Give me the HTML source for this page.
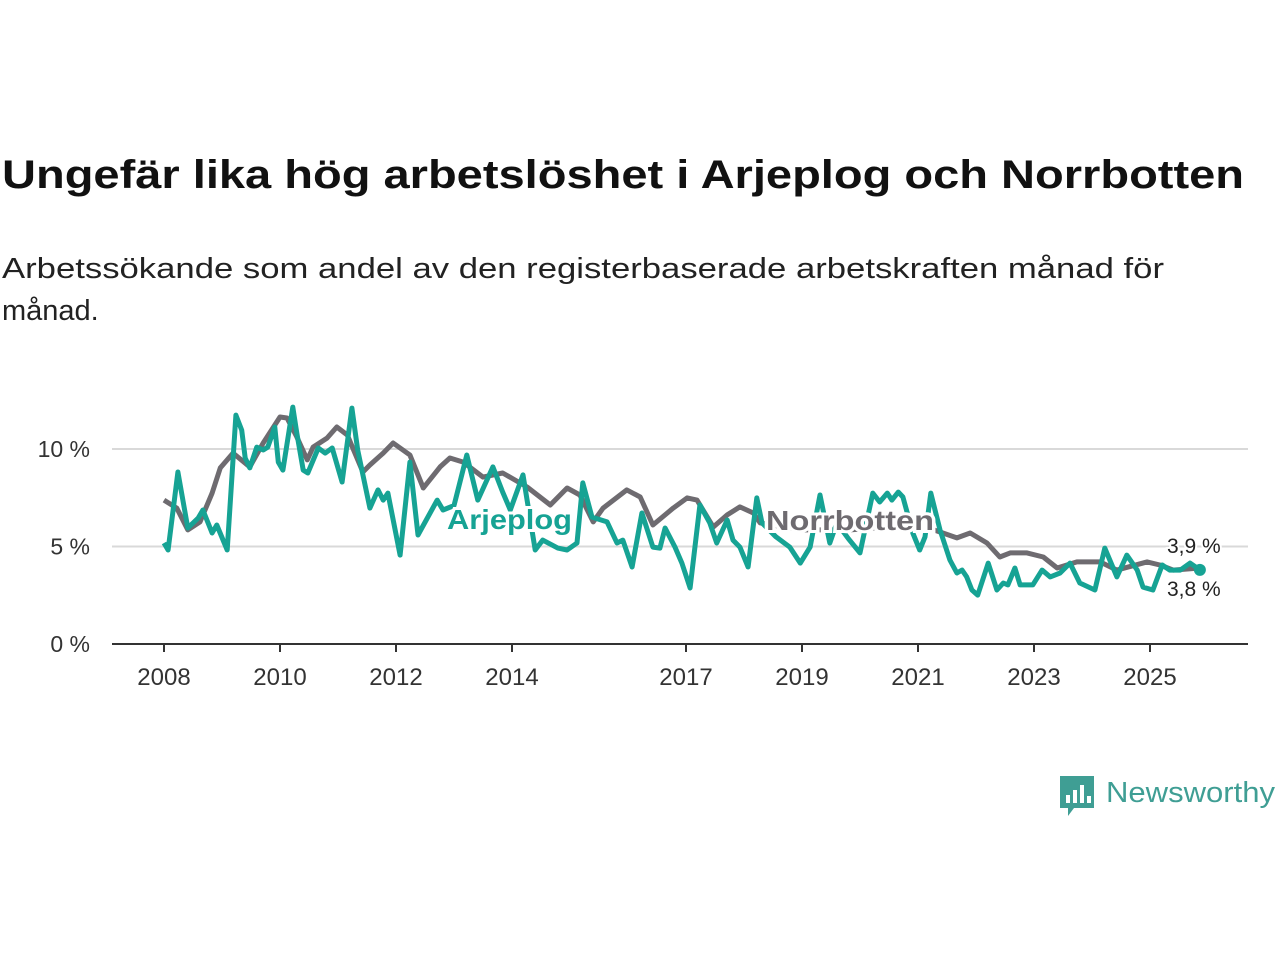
<!DOCTYPE html>
<html><head><meta charset="utf-8"><style>
body{margin:0;background:#fff;width:1280px;height:960px;overflow:hidden;font-family:"Liberation Sans",sans-serif}
</style></head><body>
<svg id="chart" width="1280" height="960" xmlns="http://www.w3.org/2000/svg">
<text x="2" y="188" font-size="40" font-weight="bold" fill="#111" textLength="1242" lengthAdjust="spacingAndGlyphs">Ungefär lika hög arbetslöshet i Arjeplog och Norrbotten</text>
<text x="2" y="278" font-size="29" fill="#222" textLength="1162" lengthAdjust="spacingAndGlyphs">Arbetssökande som andel av den registerbaserade arbetskraften månad för</text>
<text x="2" y="320" font-size="29" fill="#222">månad.</text>
<g id="grid"></g><g id="lines"></g><g id="labels"></g>
<g>
<path d="M1060 776h34v32h-20l-6 8v-8h-8z" fill="#3f9e94"/>
<rect x="1066" y="795" width="4" height="8" fill="#fff"/><rect x="1073" y="790" width="4" height="13" fill="#fff"/><rect x="1080" y="785" width="4" height="18" fill="#fff"/><rect x="1087" y="796" width="4" height="7" fill="#fff"/>
<text x="1106" y="802" font-size="29" fill="#3f9e94" textLength="169" lengthAdjust="spacingAndGlyphs">Newsworthy</text>
</g>
</svg>
<script>
const yTicks=[0,5,10];
const yTickLabels=["0 %","5 %","10 %"];
const xTicks=[2008,2010,2012,2014,2017,2019,2021,2023,2025];
const norrDates=[2008.0,2008.22,2008.41,2008.62,2008.83,2008.97,2009.19,2009.48,2009.71,2010.0,2010.12,2010.29,2010.47,2010.57,2010.81,2010.98,2011.16,2011.43,2011.55,2011.78,2011.95,2012.24,2012.47,2012.76,2012.93,2013.16,2013.5,2013.84,2014.26,2014.66,2014.95,2015.17,2015.4,2015.57,2015.98,2016.21,2016.43,2016.78,2017.02,2017.19,2017.47,2017.71,2017.93,2018.16,2018.28,2018.97,2019.83,2020.69,2021.03,2021.43,2021.67,2021.9,2022.19,2022.41,2022.59,2022.88,2023.16,2023.4,2023.74,2024.14,2024.43,2024.95,2025.17,2025.4,2025.86];
const norrValues=[7.38,6.97,5.85,6.26,7.74,9.03,9.79,9.08,10.31,11.64,11.59,10.62,9.44,10.1,10.56,11.13,10.72,8.82,9.18,9.79,10.31,9.69,8.0,9.08,9.54,9.33,8.56,8.77,8.05,7.13,8.0,7.64,6.26,6.97,7.9,7.54,6.1,6.97,7.49,7.38,6.0,6.62,7.03,6.72,6.21,5.85,5.85,6.05,6.1,5.69,5.44,5.69,5.18,4.46,4.67,4.67,4.46,3.9,4.21,4.21,3.79,4.21,4.05,3.79,3.9];
const arjDates=[2008.0,2008.07,2008.24,2008.41,2008.59,2008.67,2008.83,2008.91,2009.09,2009.24,2009.34,2009.4,2009.48,2009.6,2009.71,2009.79,2009.91,2009.97,2010.05,2010.22,2010.29,2010.4,2010.48,2010.66,2010.78,2010.9,2011.07,2011.24,2011.34,2011.55,2011.69,2011.78,2011.86,2012.07,2012.24,2012.38,2012.71,2012.81,2013.0,2013.22,2013.41,2013.67,2013.84,2013.97,2014.19,2014.4,2014.53,2014.79,2014.95,2015.12,2015.22,2015.38,2015.64,2015.81,2015.91,2016.07,2016.24,2016.43,2016.55,2016.64,2016.81,2016.93,2017.07,2017.24,2017.41,2017.53,2017.71,2017.81,2017.93,2018.07,2018.22,2018.31,2018.55,2018.79,2018.97,2019.14,2019.31,2019.48,2019.6,2019.8,2020.0,2020.22,2020.34,2020.47,2020.55,2020.66,2020.74,2020.91,2021.03,2021.12,2021.22,2021.38,2021.55,2021.67,2021.76,2021.84,2021.93,2022.03,2022.21,2022.36,2022.47,2022.55,2022.67,2022.76,2022.98,2023.14,2023.28,2023.45,2023.62,2023.79,2024.05,2024.22,2024.43,2024.6,2024.78,2024.88,2025.05,2025.21,2025.34,2025.52,2025.69,2025.86];
const arjValues=[5.18,4.82,8.82,5.95,6.46,6.87,5.69,6.1,4.82,11.74,10.97,9.54,9.03,10.1,9.95,10.1,11.13,9.33,8.92,12.15,10.82,8.92,8.77,10.05,9.79,10.05,8.31,12.1,9.95,6.97,7.9,7.38,7.74,4.56,9.33,5.59,7.38,6.87,7.1,9.69,7.38,9.08,7.79,6.87,8.67,4.82,5.33,4.92,4.82,5.18,8.26,6.51,6.26,5.18,5.33,3.95,6.72,4.97,4.92,5.95,4.97,4.15,2.87,7.13,6.21,5.18,6.36,5.33,4.97,3.95,7.49,6.21,5.5,4.97,4.15,4.97,7.64,5.18,6.21,5.4,4.67,7.74,7.28,7.74,7.38,7.79,7.54,5.69,4.82,5.49,7.74,5.85,4.31,3.64,3.79,3.44,2.77,2.51,4.15,2.77,3.13,3.03,3.9,3.03,3.03,3.79,3.44,3.64,4.15,3.13,2.77,4.92,3.44,4.56,3.79,2.92,2.77,4.05,3.79,3.79,4.15,3.8];
const NS="http://www.w3.org/2000/svg";
const X=d=>164+(d-2008)*58;
const Y=v=>644-v*19.5;
function mk(tag,attrs,parent){const e=document.createElementNS(NS,tag);for(const k in attrs)e.setAttribute(k,attrs[k]);parent.appendChild(e);return e;}
const grid=document.getElementById('grid'),lines=document.getElementById('lines'),labels=document.getElementById('labels');
yTicks.forEach((t,i)=>{
 if(t>0){const g=mk('line',{x1:112,x2:1248,y1:Y(t),y2:Y(t),stroke:'#d9d9d9','stroke-width':2},grid);
 
 }
 const l=mk('text',{x:90,y:Y(t)+8,'text-anchor':'end','font-size':23,fill:'#333'},grid);l.textContent=yTickLabels[i];
 
 
});
const ax=mk('line',{x1:112,x2:1248,y1:644,y2:644,stroke:'#333','stroke-width':2},grid);


xTicks.forEach(t=>{
 const tk=mk('line',{x1:X(t),x2:X(t),y1:644,y2:652,stroke:'#333','stroke-width':2},grid);
 
 
 const l=mk('text',{x:X(t),y:685,'text-anchor':'middle','font-size':24,fill:'#333'},grid);l.textContent=t;
 
 
});
function path(ds,vs){return ds.map((d,i)=>(i?'L':'M')+X(d).toFixed(1)+' '+Y(vs[i]).toFixed(1)).join('');}
const pn=mk('path',{d:path(norrDates,norrValues),fill:'none',stroke:'#6e6b70','stroke-width':5,'stroke-linejoin':'round'},lines);


const pa=mk('path',{d:path(arjDates,arjValues),fill:'none',stroke:'#16a394','stroke-width':5,'stroke-linejoin':'round'},lines);


const la=arjDates.length-1;
const dot=mk('circle',{cx:X(arjDates[la]),cy:Y(arjValues[la]),r:6,fill:'#16a394'},lines);


const t1=mk('text',{x:447,y:529,'font-size':28,'font-weight':'bold',fill:'#16a394',stroke:'#fff','stroke-width':6,'paint-order':'stroke',textLength:125,lengthAdjust:'spacingAndGlyphs'},labels);t1.textContent='Arjeplog';


const t2=mk('text',{x:766,y:530,'font-size':28,'font-weight':'bold',fill:'#6e6b70',stroke:'#fff','stroke-width':6,'paint-order':'stroke',textLength:168,lengthAdjust:'spacingAndGlyphs'},labels);t2.textContent='Norrbotten';


const e1=mk('text',{x:1167,y:553,'font-size':21,fill:'#222',stroke:'#fff','stroke-width':4,'paint-order':'stroke'},labels);e1.textContent=String(norrValues[norrValues.length-1]).replace('.',',')+' %';


const e2=mk('text',{x:1167,y:596,'font-size':21,fill:'#222',stroke:'#fff','stroke-width':4,'paint-order':'stroke'},labels);e2.textContent=String(arjValues[la]).replace('.',',')+' %';


</script>
</body></html>
